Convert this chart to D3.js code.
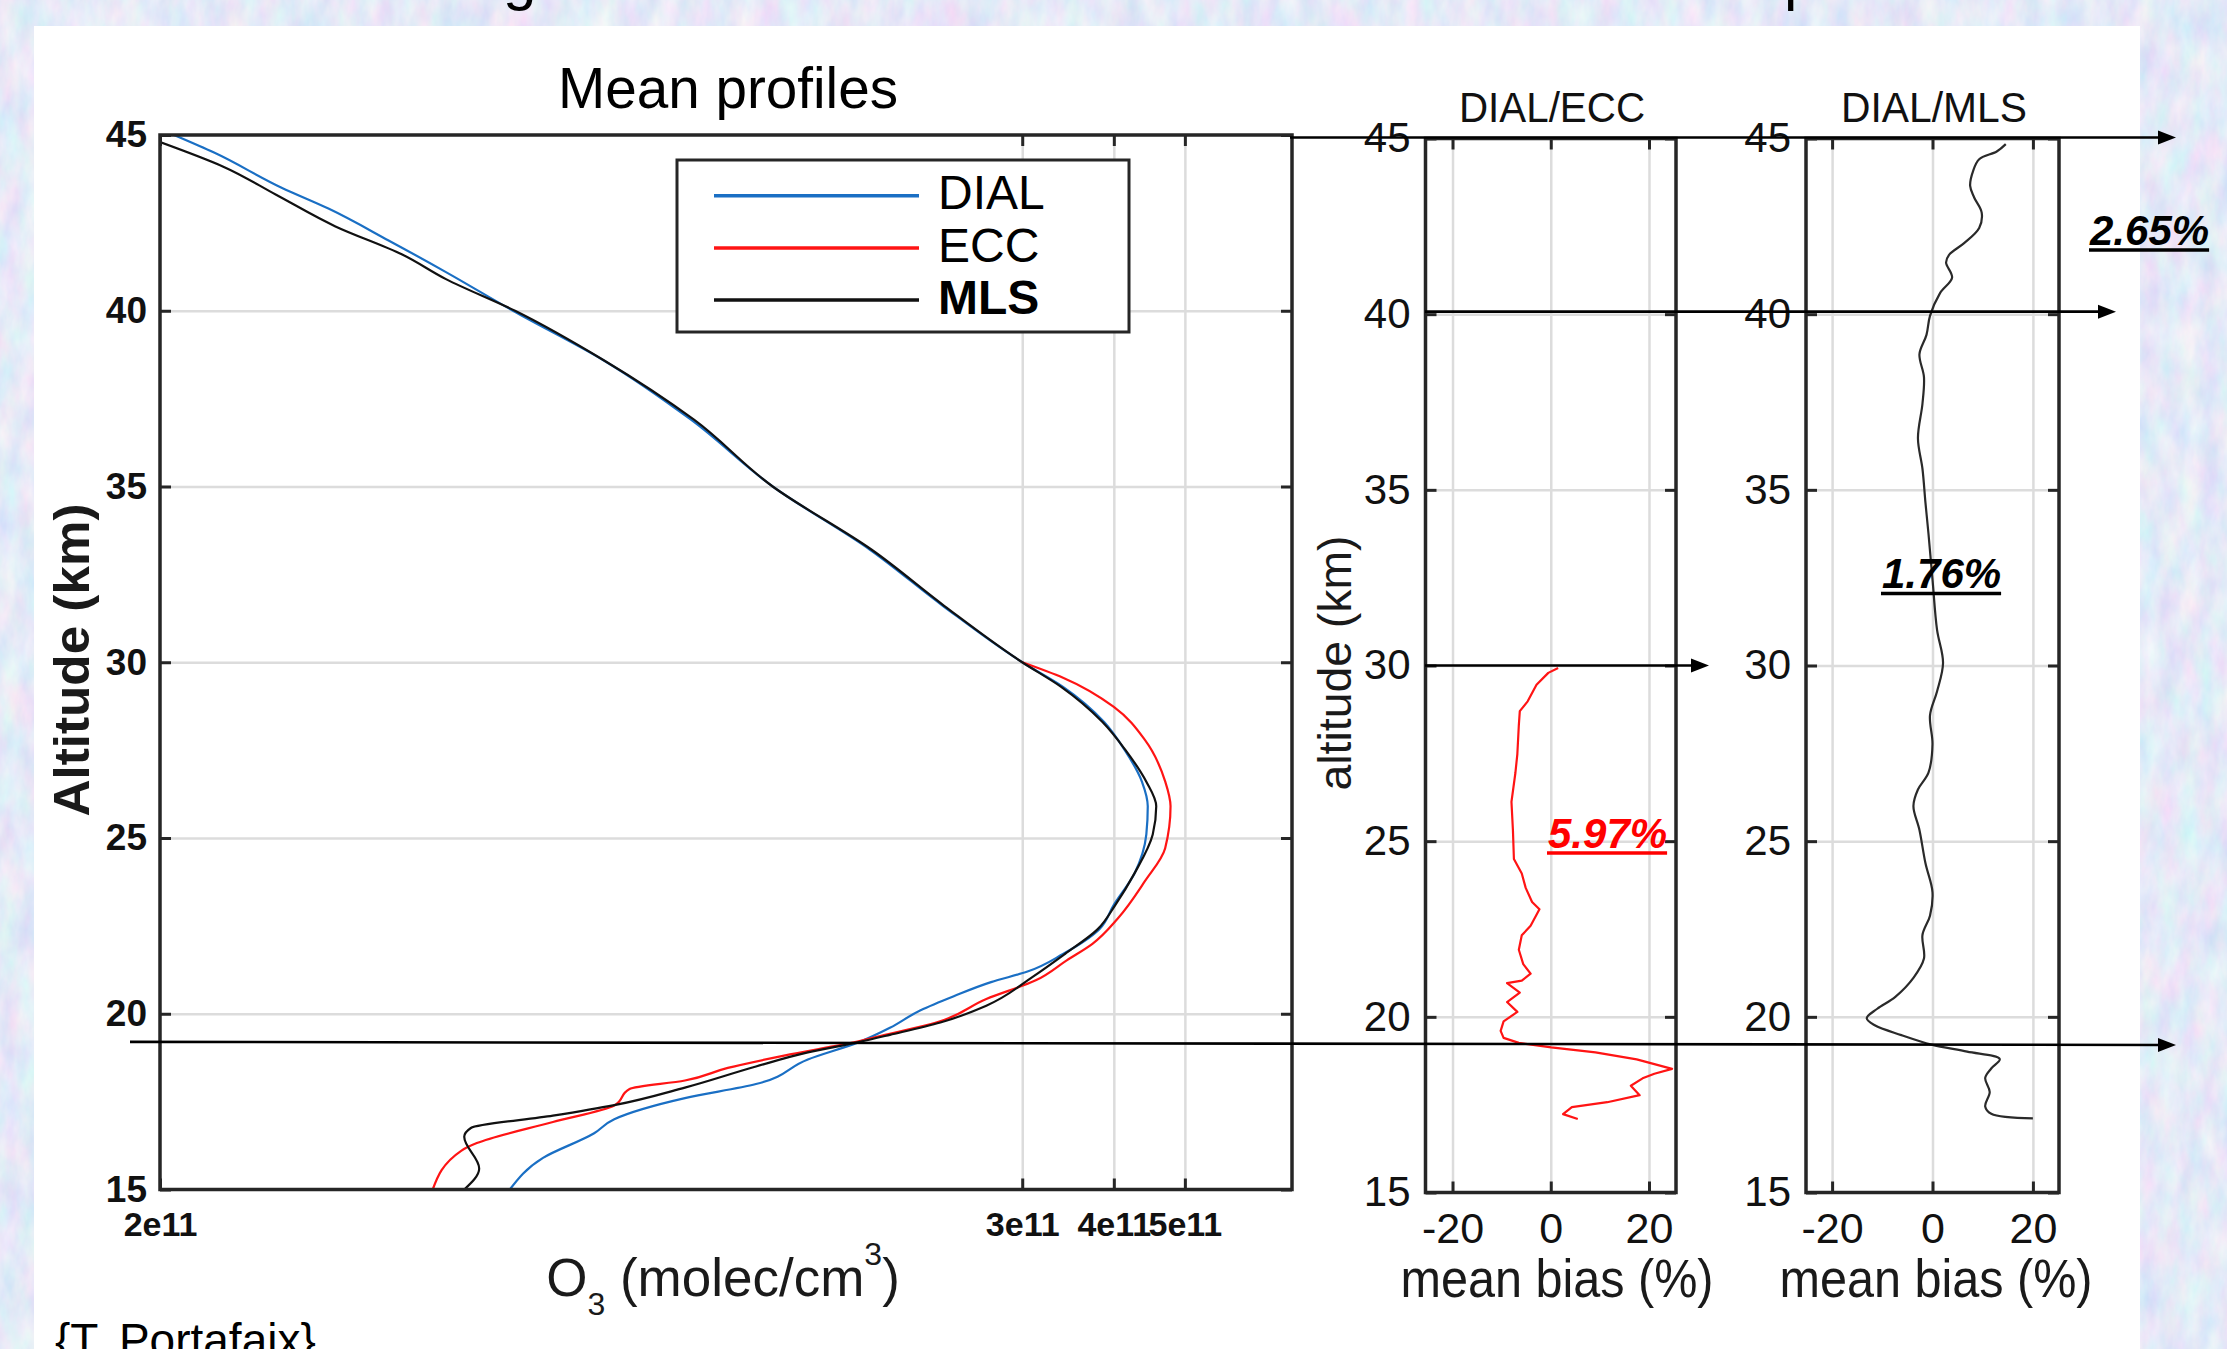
<!DOCTYPE html>
<html>
<head>
<meta charset="utf-8">
<script src="https://cdn.jsdelivr.net/npm/d3@7"></script>
<style>
  html, body { margin: 0; padding: 0; overflow: hidden; background: #c6d3f3; }
  svg { display: block; }
</style>
</head>
<body>
<script>
// ---------------------------------------------------------------------------
// Data
// ---------------------------------------------------------------------------
const altTicks = [15, 20, 25, 30, 35, 40, 45];
const altGrid = [20, 25, 30, 35, 40];
const o3TickValues = [2e10, 3e11, 4e11, 5e11];
const o3TickLabels = ["2e11", "3e11", "4e11", "5e11"];
const o3Grid = [3e11, 4e11, 5e11];
const biasTicks = [-20, 0, 20];

const seriesNames = ["DIAL", "ECC", "MLS"];
const seriesColors = ["#1a6fc4", "#ff1414", "#111111"];

// Mean ozone number density profiles (altitude km, molec/cm3)
const dialAlt = [45.0, 44.5, 43.5, 42.9, 42.0, 41.1, 40.0, 38.6, 36.9, 35.0, 33.2, 31.6, 30.0,
  29.3, 28.3, 27.5, 26.6, 25.9, 25.1, 24.0, 23.1, 22.4, 21.7, 21.2, 20.9, 20.5, 20.1, 19.6,
  19.2, 18.7, 18.0, 17.6, 17.0, 16.6, 15.9, 15.0];
const dialO3 = [2.09e10, 2.37e10, 2.93e10, 3.40e10, 4.10e10, 4.91e10, 6.06e10, 8.04e10, 1.06e11,
  1.37e11, 1.86e11, 2.34e11, 3.00e11, 3.41e11, 3.88e11, 4.14e11, 4.37e11, 4.45e11, 4.43e11,
  4.27e11, 4.00e11, 3.82e11, 3.41e11, 3.05e11, 2.72e11, 2.42e11, 2.18e11, 1.98e11, 1.80e11,
  1.53e11, 1.30e11, 1.04e11, 8.33e10, 7.82e10, 6.66e10, 6.00e10];

const eccAlt = [30.0, 29.56, 28.73, 27.79, 26.61, 25.9, 24.71, 23.77, 22.71, 21.99, 21.52, 20.95,
  20.42, 19.75, 19.4, 19.22, 18.81, 18.46, 18.1, 17.86, 17.39, 16.92, 16.32, 16.1, 15.0];
const eccO3 = [3.00e11, 3.41e11, 4.00e11, 4.41e11, 4.70e11, 4.78e11, 4.70e11, 4.41e11, 4.05e11,
  3.74e11, 3.45e11, 3.13e11, 2.68e11, 2.29e11, 1.95e11, 1.80e11, 1.42e11, 1.19e11, 1.04e11,
  8.74e10, 8.33e10, 6.87e10, 5.41e10, 5.15e10, 4.71e10];

const mlsAlt = [44.8, 44.1, 43.3, 42.4, 41.6, 40.9, 40.0, 38.6, 36.9, 35.0, 33.2, 31.6, 30.0,
  29.3, 28.3, 27.5, 26.6, 25.9, 25.1, 24.0, 23.1, 22.4, 21.7, 21.05, 20.23, 19.75, 19.4, 19.2,
  18.9, 18.5, 17.9, 17.4, 17.1, 16.75, 16.5, 15.6, 15.0];
const mlsO3 = [2.00e10, 2.44e10, 2.88e10, 3.47e10, 4.28e10, 4.91e10, 6.10e10, 8.05e10, 1.07e11,
  1.37e11, 1.87e11, 2.35e11, 3.00e11, 3.39e11, 3.86e11, 4.15e11, 4.43e11, 4.57e11, 4.52e11,
  4.27e11, 4.02e11, 3.80e11, 3.43e11, 3.10e11, 2.68e11, 2.32e11, 1.98e11, 1.80e11, 1.53e11,
  1.30e11, 1.04e11, 8.33e10, 6.87e10, 5.31e10, 5.20e10, 5.45e10, 5.20e10];

// Mean relative bias profiles (%)
const eccBiasAlt = [29.93, 29.79, 29.45, 28.98, 28.70, 28.30, 27.48, 26.94, 26.12, 25.31, 24.49,
  24.08, 23.67, 23.27, 23.06, 22.59, 22.32, 21.91, 21.50, 21.23, 21.03, 20.96, 20.69, 20.42,
  20.14, 19.87, 19.60, 19.40, 19.26, 19.13, 18.99, 18.79, 18.52, 18.38, 18.25, 18.04, 17.77,
  17.57, 17.43, 17.23, 17.09];
const eccBias = [1.5, -0.5, -2.9, -4.7, -6.3, -6.5, -6.8, -7.2, -8.0, -7.7, -7.5, -5.9, -5.1,
  -3.8, -2.3, -4.1, -5.9, -6.5, -5.6, -4.1, -5.9, -8.9, -6.3, -8.9, -6.8, -9.6, -10.2, -9.6,
  -6.5, 0.1, 9.1, 17.5, 24.7, 21.1, 18.7, 16.3, 18.1, 11.5, 4.3, 2.5, 5.5];

const mlsBiasAlt = [44.84, 44.63, 44.41, 44.08, 43.65, 43.32, 42.89, 42.45, 42.02, 41.69, 41.47,
  41.04, 40.60, 39.95, 39.41, 38.86, 38.21, 37.45, 36.47, 35.60, 34.63, 33.75, 32.45, 31.02,
  30.07, 29.26, 28.58, 27.76, 26.95, 26.47, 26.00, 25.32, 24.37, 23.55, 22.88, 22.33, 21.66,
  21.11, 20.57, 20.23, 19.96, 19.76, 19.48, 19.21, 19.01, 18.80, 18.53, 18.26, 17.86, 17.45,
  17.24, 17.11];
const mlsBias = [14.6, 12.8, 9.3, 8.1, 7.5, 8.3, 9.8, 9.3, 6.3, 3.3, 2.7, 3.9, 1.5, -0.5, -1.2,
  -2.6, -1.7, -2.0, -2.9, -2.0, -1.4, -0.8, 0.0, 0.9, 2.1, 0.9, -0.5, 0.0, -0.8, -2.9, -3.8,
  -2.6, -1.4, 0.0, -0.5, -2.0, -1.7, -3.8, -7.4, -11.0, -13.1, -11.5, -6.2, -0.2, 6.9, 13.4,
  11.7, 10.5, 11.4, 10.5, 11.7, 20.0];

// Layer boundaries marked by arrows (km) and the mean bias in each layer
const layerAlt = [45, 40, 30, 19.2];
const biasLabels = ["5.97%", "1.76%", "2.65%"];

// ---------------------------------------------------------------------------
// Drawing
// ---------------------------------------------------------------------------
const W = 2227, H = 1349;
const FONT = "'Liberation Sans', Arial, Helvetica, sans-serif";
const AXIS = "#262626", GRID = "#dcdcdc";

const svg = d3.select("body").append("svg")
  .attr("width", W).attr("height", H)
  .attr("font-family", FONT);
const defs = svg.append("defs");

// mottled slide background
const paper = defs.append("filter").attr("id", "paper")
  .attr("filterUnits", "userSpaceOnUse")
  .attr("x", 0).attr("y", 0).attr("width", W).attr("height", H);
paper.append("feTurbulence").attr("type", "fractalNoise")
  .attr("baseFrequency", "0.05 0.022").attr("numOctaves", 4).attr("seed", 11);
paper.append("feColorMatrix").attr("type", "matrix")
  .attr("values", "0.42 0 0 0 0.57  0 0.30 0 0 0.67  0 0 0.10 0 0.88  0 0 0 0 1");
svg.append("rect").attr("width", W).attr("height", H).attr("fill", "#fff")
  .attr("filter", "url(#paper)");

// slide heading (mostly cut off above the frame)
svg.append("text").attr("x", 503).attr("y", -1).attr("font-size", 60).text("g");
svg.append("text").attr("x", 1784).attr("y", -1).attr("font-size", 60).text("p");

// white sheet
svg.append("rect").attr("x", 34).attr("y", 26).attr("width", 2106).attr("height", H)
  .attr("fill", "#ffffff");

// scales
const xMain = d3.scaleLog().domain([2e10, 7e11]).range([160, 1292]);
const yMain = d3.scaleLinear().domain([15, 45]).range([1189.5, 135]);
const xEcc = d3.scaleLinear().domain([-25.5, 25.5]).range([1425.5, 1676]);
const xMls = d3.scaleLinear().domain([-25.2, 25.2]).range([1806, 2059]);
const ySide = d3.scaleLinear().domain([15, 45]).range([1192.5, 138.5]);

function clipFor(id, xs, ys) {
  const [x0, x1] = xs.range(), [y1, y0] = ys.range();
  defs.append("clipPath").attr("id", id).append("rect")
    .attr("x", x0).attr("y", y0).attr("width", x1 - x0).attr("height", y1 - y0);
  return `url(#${id})`;
}

function drawGrid(g, xs, ys, xVals, yVals) {
  const [x0, x1] = xs.range(), [y1, y0] = ys.range();
  g.append("g").attr("transform", `translate(${x0},0)`)
    .call(d3.axisLeft(ys).tickValues(yVals).tickSize(-(x1 - x0)).tickFormat(""))
    .call(s => { s.select(".domain").remove();
      s.selectAll("line").attr("stroke", GRID).attr("stroke-width", 2.5); });
  g.append("g").attr("transform", `translate(0,${y1})`)
    .call(d3.axisBottom(xs).tickValues(xVals).tickSize(-(y1 - y0)).tickFormat(""))
    .call(s => { s.select(".domain").remove();
      s.selectAll("line").attr("stroke", GRID).attr("stroke-width", 2.5); });
}

function styleAxis(s, size, weight) {
  s.select(".domain").remove();
  s.attr("font-family", FONT).attr("font-size", size);
  s.selectAll("line").attr("stroke", AXIS).attr("stroke-width", 3);
  s.selectAll("text").attr("fill", "#111").attr("font-weight", weight);
}

function drawFrame(g, xs, ys, o) {
  const [x0, x1] = xs.range(), [y1, y0] = ys.range();
  const t = 11;
  g.append("g").attr("transform", `translate(${x0},0)`)
    .call(d3.axisLeft(ys).tickValues(altTicks).tickSizeInner(-t).tickSizeOuter(0)
      .tickPadding(o.yPad).tickFormat(d => String(d)))
    .call(s => styleAxis(s, o.yFont, o.yWeight));
  g.append("g").attr("transform", `translate(${x1},0)`)
    .call(d3.axisRight(ys).tickValues(altTicks).tickSizeInner(-t).tickSizeOuter(0).tickFormat(""))
    .call(s => styleAxis(s, 10, "normal"));
  g.append("g").attr("transform", `translate(0,${y1})`)
    .call(d3.axisBottom(xs).tickValues(o.xTicks).tickSizeInner(-t).tickSizeOuter(0)
      .tickPadding(o.xPad).tickFormat(o.xFormat))
    .call(s => styleAxis(s, o.xFont, o.xWeight));
  g.append("g").attr("transform", `translate(0,${y0})`)
    .call(d3.axisTop(xs).tickValues(o.xTicks).tickSizeInner(-t).tickSizeOuter(0).tickFormat(""))
    .call(s => styleAxis(s, 10, "normal"));
  g.append("rect").attr("x", x0).attr("y", y0).attr("width", x1 - x0).attr("height", y1 - y0)
    .attr("fill", "none").attr("stroke", AXIS).attr("stroke-width", 3.5);
}

// ---------------- Mean profiles ----------------
const gMain = svg.append("g");
drawGrid(gMain, xMain, yMain, o3Grid, altGrid);

const profiles = [
  { name: seriesNames[0], color: seriesColors[0], pts: d3.zip(dialAlt, dialO3) },
  { name: seriesNames[1], color: seriesColors[1], pts: d3.zip(eccAlt, eccO3) },
  { name: seriesNames[2], color: seriesColors[2], pts: d3.zip(mlsAlt, mlsO3) }
];
const profLine = d3.line().x(d => xMain(d[1])).y(d => yMain(d[0])).curve(d3.curveMonotoneY);
gMain.append("g").attr("clip-path", clipFor("clipMain", xMain, yMain))
  .selectAll("path").data(profiles).join("path")
  .attr("d", d => profLine(d.pts.slice().reverse()))
  .attr("fill", "none").attr("stroke", d => d.color).attr("stroke-width", 2.2)
  .attr("stroke-linejoin", "round");

drawFrame(gMain, xMain, yMain, {
  yPad: 13, yFont: 37, yWeight: "bold",
  xTicks: o3TickValues, xPad: 22, xFont: 34, xWeight: "bold",
  xFormat: (d, i) => o3TickLabels[i]
});

// legend
const lg = gMain.append("g");
lg.append("rect").attr("x", 677).attr("y", 160).attr("width", 452).attr("height", 172)
  .attr("fill", "#fff").attr("stroke", AXIS).attr("stroke-width", 3);
const rows = lg.selectAll("g.row").data(profiles).join("g")
  .attr("transform", (d, i) => `translate(0,${195.7 + i * 52.2})`);
rows.append("line").attr("x1", 714).attr("x2", 919).attr("y1", 0).attr("y2", 0)
  .attr("stroke", d => d.color).attr("stroke-width", 3.5);
rows.append("text").attr("x", 938).attr("y", 13.6).attr("font-size", 48)
  .attr("font-weight", (d, i) => i === 2 ? "bold" : "normal")
  .attr("fill", "#000").text(d => d.name);

// titles
svg.append("text").attr("x", 728).attr("y", 108).attr("text-anchor", "middle")
  .attr("font-size", 58).attr("textLength", 340).attr("lengthAdjust", "spacingAndGlyphs")
  .attr("fill", "#000").text("Mean profiles");
svg.append("text").attr("transform", "translate(89,660) rotate(-90)")
  .attr("text-anchor", "middle").attr("font-size", 50).attr("font-weight", "bold")
  .attr("textLength", 313).attr("lengthAdjust", "spacingAndGlyphs")
  .attr("fill", "#1a1a1a").text("Altitude (km)");
const xl = svg.append("text").attr("x", 723).attr("y", 1296).attr("text-anchor", "middle")
  .attr("font-size", 53).attr("fill", "#1a1a1a");
xl.append("tspan").text("O");
xl.append("tspan").attr("font-size", 32).attr("dy", 19).text("3");
xl.append("tspan").attr("dy", -19).text(" (molec/cm");
xl.append("tspan").attr("font-size", 32).attr("dy", -31).text("3");
xl.append("tspan").attr("dy", 31).text(")");

// ---------------- Bias panels ----------------
const biasPanels = [
  { id: "clipEcc", xs: xEcc, title: "DIAL/ECC", pts: d3.zip(eccBiasAlt, eccBias), color: "#ff1414",
    curve: d3.curveLinear, titleX: 1552, labelX: 1557 },
  { id: "clipMls", xs: xMls, title: "DIAL/MLS", pts: d3.zip(mlsBiasAlt, mlsBias), color: "#2a2a2a",
    curve: d3.curveCatmullRom.alpha(0.5), titleX: 1934, labelX: 1936 }
];
biasPanels.forEach(p => {
  const g = svg.append("g");
  drawGrid(g, p.xs, ySide, biasTicks, altGrid);
  const line = d3.line().x(d => p.xs(d[1])).y(d => ySide(d[0])).curve(p.curve);
  g.append("path").attr("clip-path", clipFor(p.id, p.xs, ySide))
    .attr("d", line(p.pts)).attr("fill", "none")
    .attr("stroke", p.color).attr("stroke-width", 2.2).attr("stroke-linejoin", "round");
  drawFrame(g, p.xs, ySide, {
    yPad: 15, yFont: 42, yWeight: "normal",
    xTicks: biasTicks, xPad: 20, xFont: 43, xWeight: "normal",
    xFormat: d => String(d)
  });
  g.append("text").attr("x", p.titleX).attr("y", 121.5).attr("text-anchor", "middle")
    .attr("font-size", 42).attr("textLength", 186).attr("lengthAdjust", "spacingAndGlyphs")
    .attr("fill", "#111").text(p.title);
  g.append("text").attr("x", p.labelX).attr("y", 1297).attr("text-anchor", "middle")
    .attr("font-size", 54).attr("textLength", 313).attr("lengthAdjust", "spacingAndGlyphs")
    .attr("fill", "#1a1a1a").text("mean bias (%)");
});
svg.append("text").attr("transform", "translate(1351,663) rotate(-90)")
  .attr("text-anchor", "middle").attr("font-size", 47)
  .attr("textLength", 255).attr("lengthAdjust", "spacingAndGlyphs")
  .attr("fill", "#1a1a1a").text("altitude (km)");

// ---------------- Layer arrows ----------------
const arrows = [
  { x0: 1290, x1: 2176, y0: ySide(layerAlt[0]) - 1, y1: ySide(layerAlt[0]) - 1 },
  { x0: 1425, x1: 2116, y0: ySide(layerAlt[1]) - 2.5, y1: ySide(layerAlt[1]) - 2.5 },
  { x0: 1425, x1: 1709, y0: ySide(layerAlt[2]), y1: ySide(layerAlt[2]) },
  { x0: 130, x1: 2176, y0: yMain(layerAlt[3]), y1: ySide(layerAlt[3]) }
];
const ga = svg.append("g");
arrows.forEach(a => {
  ga.append("line").attr("x1", a.x0).attr("y1", a.y0).attr("x2", a.x1 - 12).attr("y2", a.y1)
    .attr("stroke", "#000").attr("stroke-width", 2.6);
  ga.append("path").attr("d", `M${a.x1},${a.y1} L${a.x1 - 18},${a.y1 - 7} L${a.x1 - 18},${a.y1 + 7} Z`)
    .attr("fill", "#000");
});

// ---------------- Layer mean bias labels ----------------
const notes = [
  { text: biasLabels[0], x: 1548, y: 847.5, color: "#ff0000" },
  { text: biasLabels[1], x: 1882, y: 588, color: "#000" },
  { text: biasLabels[2], x: 2090, y: 244.5, color: "#000" }
];
notes.forEach(n => {
  const t = svg.append("text").attr("x", n.x).attr("y", n.y).attr("font-size", 42)
    .attr("font-weight", "bold").attr("font-style", "italic").attr("fill", n.color)
    .text(n.text);
  const w = t.node().getComputedTextLength();
  svg.append("line").attr("x1", n.x - 1).attr("x2", n.x + w).attr("y1", n.y + 5.5).attr("y2", n.y + 5.5)
    .attr("stroke", n.color).attr("stroke-width", 3.5);
});

// credit
svg.append("text").attr("x", 55).attr("y", 1356).attr("font-size", 46).attr("fill", "#000")
  .text("{T. Portafaix}");
</script>
</body>
</html>
